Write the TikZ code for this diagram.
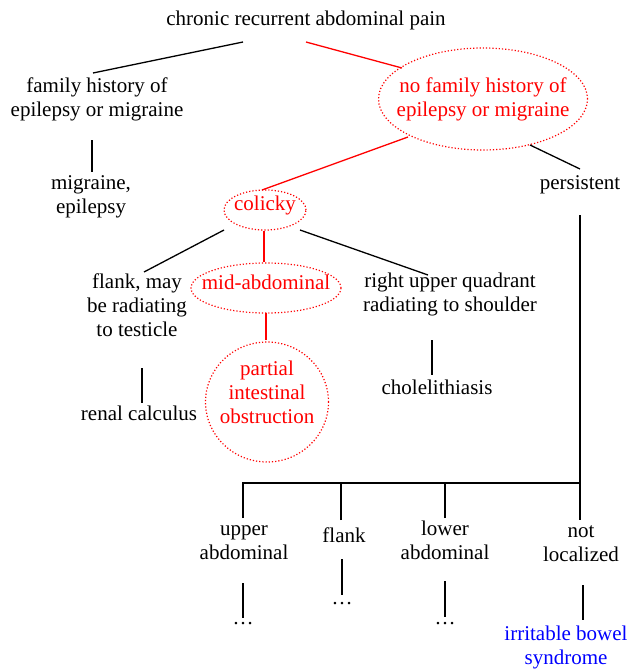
\documentclass[tikz,border=0pt]{standalone}
\usepackage{fontspec}
\setmainfont{Liberation Serif}

\begin{document}
\begin{tikzpicture}[x=1pt,y=-1pt,line width=1.3pt,
  every node/.style={font=\fontsize{21}{24}\selectfont,align=center,inner sep=0pt},
  pick/.style={red},
  oval/.style={red,line width=1.2pt,dash pattern=on 1.2pt off 2pt}]
 \useasboundingbox (0,0) rectangle (627,669);
 % upper part of the tree
 \node (root) at (306,20) {chronic recurrent abdominal pain};
 \node (fam) at (97,99) {family history of\\epilepsy or migraine};
 \node[red] (nofam) at (483,99) {no family history of\\epilepsy or migraine};
 \node (mig) at (91,197) {migraine,\\epilepsy};
 \node (persist) at (580,185) {persistent};
 \node[red] (colicky) at (265,205) {colicky};
 \node (flank) at (137,305) {flank, may\\be radiating\\to testicle};
 \node[red] (mid) at (266,282) {mid-abdominal};
 \node (ruq) at (450,294) {right upper quadrant\\radiating to shoulder};
 \node (renal) at (139,413) {renal calculus};
 \node[red] (partial) at (267,392) {partial\\intestinal\\obstruction};
 \node (chole) at (437,387) {cholelithiasis};
 % lower part of the tree
 \node (upper) at (244,543) {upper\\abdominal};
 \node (flankb) at (344,535) {flank};
 \node (lower) at (445,540) {lower\\abdominal};
 \node (notloc) at (581,544) {not\\localized};
 \node (dotsa) at (243,624) {\ldots};
 \node (dotsb) at (342,604) {\ldots};
 \node (dotsc) at (445,624) {\ldots};
 \node[blue] (ibs) at (566,647) {irritable bowel\\syndrome};
 \coordinate (split) at (580,483);
 % dotted ovals round the chosen path
 \draw[oval] (nofam.center) ellipse [x radius=104.5pt,y radius=51pt];
 \draw[oval] ([shift={(0,5)}]colicky.center) ellipse [x radius=41pt,y radius=20pt];
 \draw[oval] ([shift={(0,6)}]mid.center) ellipse [x radius=75pt,y radius=25pt];
 \draw[oval] ([shift={(0,10)}]partial.center) ellipse [x radius=61.5pt,y radius=60pt];
 % connectors
 \draw ([shift={(-63,22)}]root.center) -- ([shift={(-4,-26)}]fam.center);
 \draw[pick] ([shift={(0,22)}]root.center) -- ([shift={(-81,-31)}]nofam.center);
 \draw ([shift={(-5,41)}]fam.center) -- ([shift={(1,-25)}]mig.center);
 \draw[pick] ([shift={(-75,38)}]nofam.center) -- ([shift={(-3,-15)}]colicky.center);
 \draw ([shift={(47,46)}]nofam.center) -- ([shift={(0,-16)}]persist.center);
 \draw ([shift={(0,30)}]persist.center) -- (split) -- ([shift={(-1,-24)}]notloc.center);
 \draw ([shift={(-41,25)}]colicky.center) -- ([shift={(7,-33)}]flank.center);
 \draw[pick] ([shift={(-1,26)}]colicky.center) -- ([shift={(-2,-20)}]mid.center);
 \draw ([shift={(35,25)}]colicky.center) -- ([shift={(-22,-19)}]ruq.center);
 \draw[pick] ([shift={(0,31)}]mid.center) -- ([shift={(-1,-52)}]partial.center);
 \draw ([shift={(-18,46)}]ruq.center) -- ([shift={(-5,-12)}]chole.center);
 \draw ([shift={(5,63)}]flank.center) -- ([shift={(3,-10)}]renal.center);
 \draw ([shift={(-1,-25)}]upper.center) |- (split);
 \draw ([shift={(-3,-15)}]flankb.center) |- (split);
 \draw ([shift={(0,-22)}]lower.center) |- (split);
 \draw ([shift={(-1,40)}]upper.center) -- ([shift={(0,-6)}]dotsa.center);
 \draw ([shift={(-2,24)}]flankb.center) -- ([shift={(0,-9)}]dotsb.center);
 \draw ([shift={(0,41)}]lower.center) -- ([shift={(0,-7)}]dotsc.center);
 \draw ([shift={(2,41)}]notloc.center) -- ([shift={(17,-27)}]ibs.center);
\end{tikzpicture}
\end{document}
